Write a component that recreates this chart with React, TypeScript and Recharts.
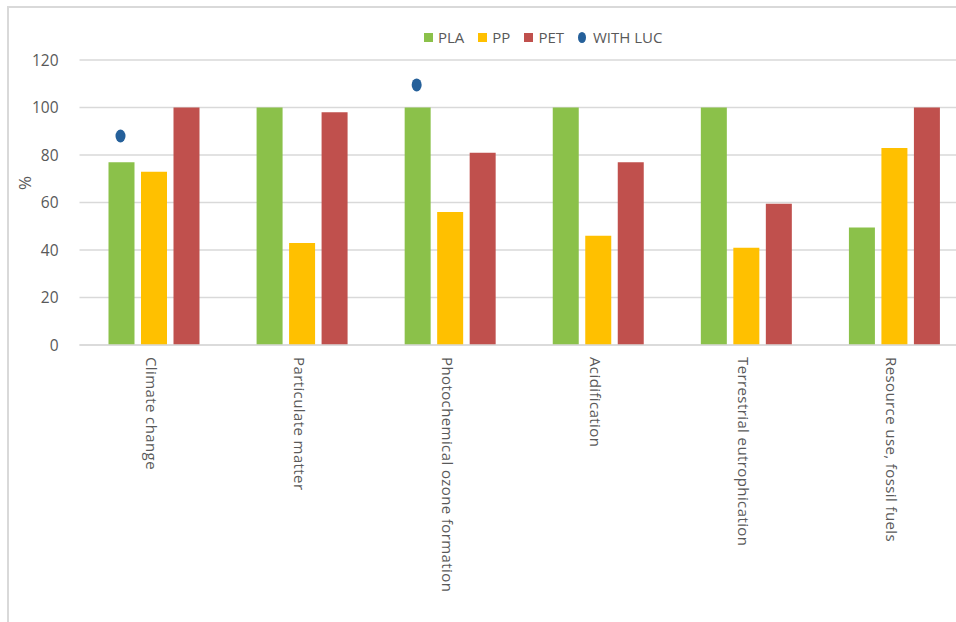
import React from 'react';
import { BarChart, Bar, XAxis, YAxis, CartesianGrid, LabelList } from 'recharts';

const categories = [
  'Climate change',
  'Particulate matter',
  'Photochemical ozone formation',
  'Acidification',
  'Terrestrial eutrophication',
  'Resource use, fossil fuels',
];
const plaValues = [77, 100, 100, 100, 100, 49.5];
const ppValues = [73, 43, 56, 46, 41, 83];
const petValues = [100, 98, 81, 77, 59.5, 100];
// land use change variant, only reported for two categories
const lucValues: (number | null)[] = [88, null, 109.5, null, null, null];
const yTicks = [0, 20, 40, 60, 80, 100, 120];

const seriesNames = ['PLA', 'PP', 'PET'];
const lucName = 'WITH LUC';

const COLORS = ['#8bc14a', '#ffc000', '#c0504d'];
const LUC_COLOR = '#25609a';
const TEXT = '#595959';
const GRID = '#d9d9d9';
const FONT = '"Open Sans", "Liberation Sans", Arial, sans-serif';

const data = categories.map((name, i) => ({
  name,
  pla: plaValues[i],
  pp: ppValues[i],
  pet: petValues[i],
  luc: lucValues[i],
}));

const CategoryTick = ({ x, y, payload }: any) => (
  <text
    x={x}
    y={y}
    transform={`rotate(90, ${x}, ${y})`}
    textAnchor="start"
    dy="0.5em"
    fill={TEXT}
    fontSize={15}
    fontFamily={FONT}
    letterSpacing={0.4}
  >
    {payload.value}
  </text>
);

// draws the LUC marker above the PLA bar, using the bar's own pixel scale
const LucMarker = (props: any) => {
  const { x, y, width, height, value, index } = props;
  if (value == null || index == null) return null;
  const pla = plaValues[index];
  const perUnit = height / pla;
  const cy = y + height - value * perUnit;
  return <ellipse cx={x + width / 2 - 1} cy={cy} rx={5} ry={6.5} fill={LUC_COLOR} />;
};

const LegendRow = () => (
  <div
    style={{
      position: 'absolute',
      top: 19,
      left: 415,
      display: 'flex',
      alignItems: 'center',
      gap: 14,
      fontFamily: FONT,
      fontSize: 15,
      color: TEXT,
      whiteSpace: 'nowrap',
    }}
  >
    {seriesNames.map((s, i) => (
      <div key={s} style={{ display: 'flex', alignItems: 'center', gap: 5 }}>
        <span style={{ width: 9, height: 9, background: COLORS[i], display: 'inline-block' }} />
        <span>{s}</span>
      </div>
    ))}
    <div style={{ display: 'flex', alignItems: 'center', gap: 7 }}>
      <span
        style={{
          width: 8,
          height: 11,
          borderRadius: '50%',
          background: LUC_COLOR,
          display: 'inline-block',
        }}
      />
      <span>{lucName}</span>
    </div>
  </div>
);

export default function App() {
  return (
    <div
      style={{
        position: 'absolute',
        left: 7,
        top: 6,
        width: 947,
        height: 616,
        borderLeft: `2px solid ${GRID}`,
        borderTop: `2px solid ${GRID}`,
        overflow: 'hidden',
        background: '#fff',
      }}
    >
      <LegendRow />
      <div
        style={{
          position: 'absolute',
          left: 15,
          top: 175,
          transform: 'translate(-50%, -50%) rotate(-90deg)',
          fontFamily: FONT,
          fontSize: 17,
          color: TEXT,
        }}
      >
        %
      </div>
      <BarChart
        width={969}
        height={620}
        data={data}
        margin={{ top: 52, right: 10, bottom: 0, left: 10.5 }}
        barSize={26}
        barGap={6.5}
      >
        <CartesianGrid vertical={false} stroke={GRID} strokeWidth={1.4} />
        <XAxis
          dataKey="name"
          interval={0}
          height={283}
          tickLine={false}
          tickSize={0}
          tickMargin={12}
          axisLine={{ stroke: GRID, strokeWidth: 1.4 }}
          tick={<CategoryTick />}
        />
        <YAxis
          width={60}
          domain={[0, 120]}
          ticks={yTicks}
          axisLine={false}
          tickLine={false}
          tickSize={0}
          tickMargin={21}
          tick={{ fill: TEXT, fontSize: 15.5, fontFamily: FONT }}
        />
        <Bar dataKey="pla" name={seriesNames[0]} fill={COLORS[0]} isAnimationActive={false}>
          <LabelList dataKey="luc" content={<LucMarker />} />
        </Bar>
        <Bar dataKey="pp" name={seriesNames[1]} fill={COLORS[1]} isAnimationActive={false} />
        <Bar dataKey="pet" name={seriesNames[2]} fill={COLORS[2]} isAnimationActive={false} />
      </BarChart>
    </div>
  );
}
